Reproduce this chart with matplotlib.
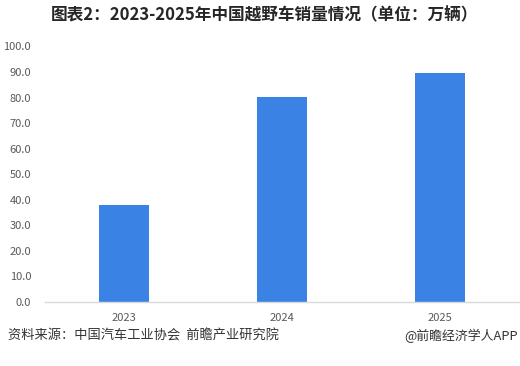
import matplotlib
matplotlib.use("Agg")
import matplotlib.pyplot as plt

plt.rcParams['font.family'] = ['Noto Sans CJK SC', 'DejaVu Sans']

years = ["2023", "2024", "2025"]
sales = [38.0, 80.2, 89.6]
yticks = [0, 10, 20, 30, 40, 50, 60, 70, 80, 90, 100]

fig = plt.figure(figsize=(5.2, 3.66), dpi=100)
ax = fig.add_axes([0.0865, 0.175, 0.9115, 0.698])
x = range(len(years))
ax.bar(x, sales, width=0.316, color="#3A82E4")
ax.set_xlim(-0.5, 2.5)
ax.set_ylim(0, 100)
ax.set_yticks(yticks)
ax.set_yticklabels([f"{v:.1f}" for v in yticks], fontsize=8, color="#595959")
ax.set_xticks(list(x))
ax.set_xticklabels(years, fontsize=8, color="#595959")
ax.tick_params(axis='y', length=0, pad=10)
ax.tick_params(axis='x', length=0, pad=8)
for s in ["top", "right", "left"]:
    ax.spines[s].set_visible(False)
ax.spines["bottom"].set_color("#D9D9D9")
ax.spines["bottom"].set_linewidth(1.0)

fig.text(0.508, 0.958, "图表2：2023-2025年中国越野车销量情况（单位：万辆）",
         ha="center", va="center", fontsize=12, fontweight="bold", color="#262626")
fig.text(0.015, 0.082, "资料来源：中国汽车工业协会  前瞻产业研究院",
         ha="left", va="center", fontsize=9.5, color="#333333")
fig.text(0.996, 0.082, "@前瞻经济学人APP",
         ha="right", va="center", fontsize=9.3, color="#333333")

fig.savefig("out.png", dpi=100)
